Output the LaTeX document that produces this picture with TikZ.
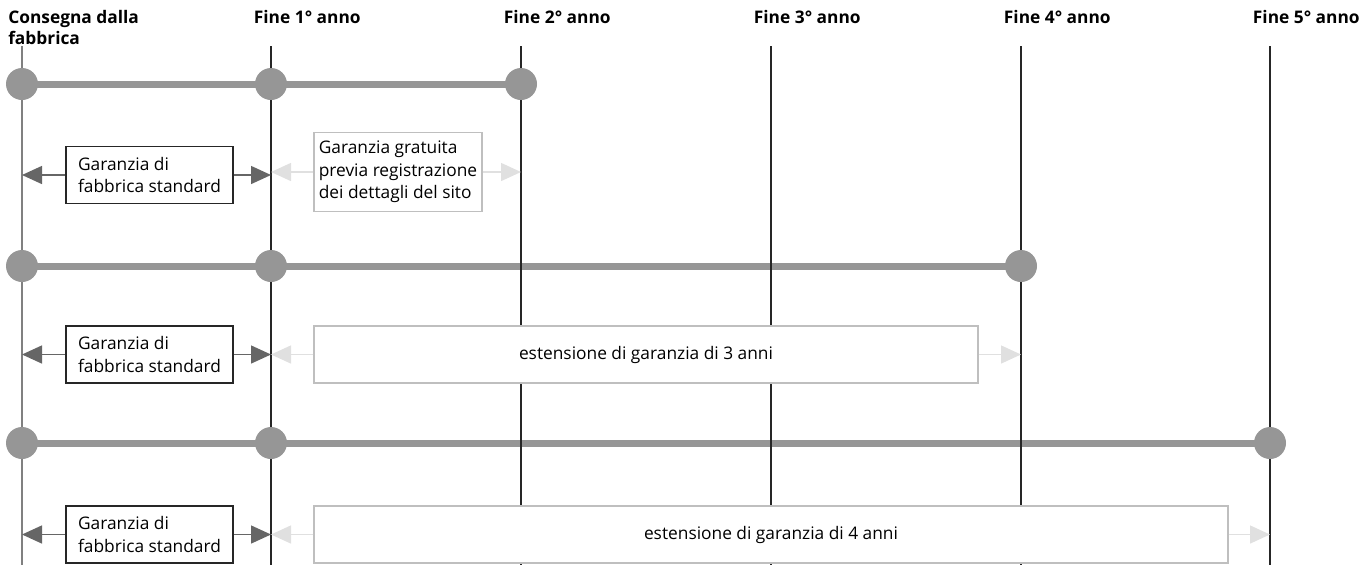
\documentclass[tikz,border=0pt]{standalone}
\usepackage{fontspec}
\setmainfont{Open Sans}
\usepackage{tikz}
\usetikzlibrary{arrows.meta,positioning}

\begin{document}
\begin{tikzpicture}[x=0.75pt,y=-0.75pt,
  head/.style={font=\bfseries\fontsize{13}{16}\selectfont,align=left,anchor=north west,inner sep=0pt},
  yearline/.style={black!85,line width=0.8pt},
  firstline/.style={black!50,line width=0.9pt},
  bar/.style={line width=5.25pt,black!41},
  dot/.style={circle,fill=black!41,minimum size=24pt,inner sep=0pt},
  stdbox/.style={draw=black!85,fill=white,line width=0.8pt,minimum width=125.25pt,minimum height=42.75pt,align=left,font=\fontsize{13}{17}\selectfont},
  extbox/.style={draw=black!25,fill=white,line width=0.8pt,minimum height=42.75pt,inner xsep=3pt,align=left,font=\fontsize{13}{17}\selectfont},
  darr/.style={-{Triangle[length=15pt,width=13.5pt]},black!60,line width=1.1pt},
  larr/.style={-{Triangle[length=15pt,width=13.5pt]},black!12,line width=1.1pt}]
\useasboundingbox (0,0) rectangle (1362,565);
% year lines and dot positions
\foreach \i/\xx in {0/22,1/271,2/521,3/771,4/1021,5/1270}{
  \coordinate (t\i) at (\xx,46);
  \coordinate (b\i) at (\xx,565);
  \foreach \r/\yy in {1/84,2/266,3/443}
    \coordinate (p\r\i) at (\xx,\yy);
}
% headers
\node[head] (h0) at (8,10) {Consegna dalla\\fabbrica};
\foreach \i in {1,...,5}
  \node[head,xshift=-13pt] (h\i) at (t\i |- h0.north) {Fine \i° anno};
% bars
\draw[bar] (p10) -- (p12);
\draw[bar] (p20) -- (p24);
\draw[bar] (p30) -- (p35);
\draw[firstline] (t0) -- (b0);
\foreach \i in {1,...,5}
  \draw[yearline] (t\i) -- (b\i);
% dots
\foreach \i in {0,1,2}
  \node[dot] (d1\i) at (p1\i) {};
\foreach \i in {0,1,4}
  \node[dot] (d2\i) at (p2\i) {};
\foreach \i in {0,1,5}
  \node[dot] (d3\i) at (p3\i) {};
% row 1
\node[stdbox] (s1) at (149.5,175) {Garanzia di\\fabbrica standard};
\draw[darr] (s1.west) -- (s1.west -| t0);
\draw[darr] (s1.east) -- (s1.east -| t1);
\node[extbox,minimum width=126pt,minimum height=59.25pt] (e1) at (398,172) {Garanzia gratuita\\previa registrazione\\dei dettagli del sito};
\draw[larr] (e1.west) -- (e1.west -| t1);
\draw[larr] (e1.east) -- (e1.east -| t2);
% row 2
\node[stdbox] (s2) at (149.5,354.5) {Garanzia di\\fabbrica standard};
\draw[darr] (s2.west) -- (s2.west -| t0);
\draw[darr] (s2.east) -- (s2.east -| t1);
\node[extbox,minimum width=498pt] (e2) at (646,354.5) {estensione di garanzia di 3 anni};
\draw[larr] (e2.west) -- (e2.west -| t1);
\draw[larr] (e2.east) -- (e2.east -| t4);
% row 3
\node[stdbox] (s3) at (149.5,534.5) {Garanzia di\\fabbrica standard};
\draw[darr] (s3.west) -- (s3.west -| t0);
\draw[darr] (s3.east) -- (s3.east -| t1);
\node[extbox,minimum width=685.5pt] (e3) at (771,534.5) {estensione di garanzia di 4 anni};
\draw[larr] (e3.west) -- (e3.west -| t1);
\draw[larr] (e3.east) -- (e3.east -| t5);
\end{tikzpicture}
\end{document}
